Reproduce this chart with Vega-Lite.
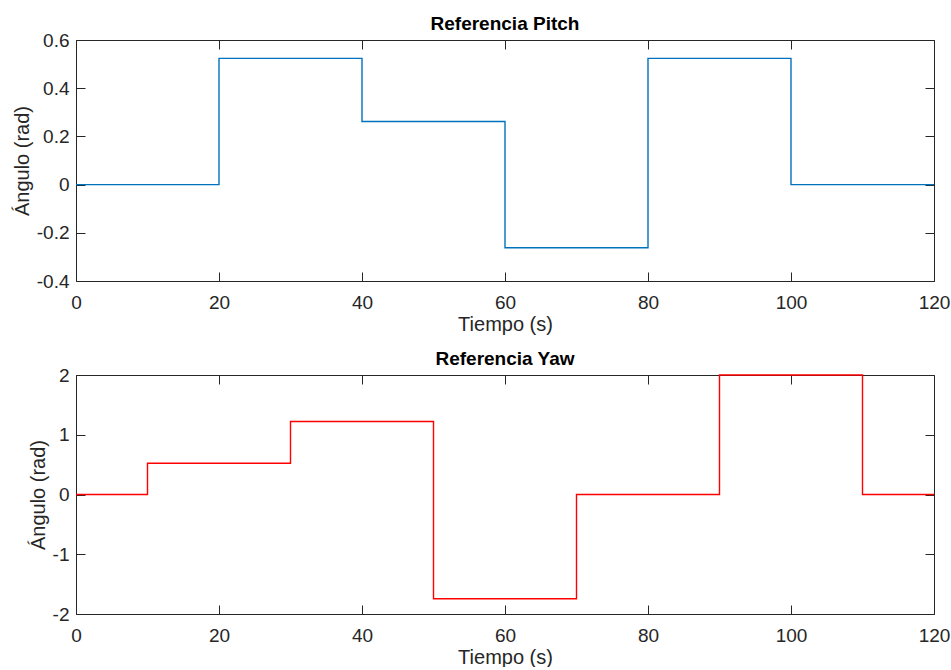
{
  "$schema": "https://vega.github.io/schema/vega-lite/v6.json",
  "padding": {"left": 12, "top": 15, "right": 16, "bottom": 0},
  "background": "white",
  "bounds": "flush",
  "spacing": 94,
  "datasets": {
    "pitch": [
      {"t": 0, "angle": 0},
      {"t": 20, "angle": 0.5236},
      {"t": 40, "angle": 0.2618},
      {"t": 60, "angle": -0.2618},
      {"t": 80, "angle": 0.5236},
      {"t": 100, "angle": 0},
      {"t": 120, "angle": 0}
    ],
    "yaw": [
      {"t": 0, "angle": 0},
      {"t": 10, "angle": 0.5236},
      {"t": 30, "angle": 1.2217},
      {"t": 50, "angle": -1.7453},
      {"t": 70, "angle": 0},
      {"t": 90, "angle": 2.0},
      {"t": 110, "angle": 0},
      {"t": 120, "angle": 0}
    ]
  },
  "vconcat": [
    {
      "width": 858,
      "height": 241,
      "data": {"name": "pitch"},
      "title": {"text": "Referencia Pitch", "anchor": "middle", "offset": -3},
      "layer": [
        {
          "mark": {"type": "line", "interpolate": "step-after", "color": "#0072BD", "strokeWidth": 1.4},
          "encoding": {
            "x": {"field": "t", "type": "quantitative", "scale": {"domain": [0, 120], "nice": false, "zero": false},
                  "axis": {"orient": "bottom", "title": "Tiempo (s)", "values": [0, 20, 40, 60, 80, 100, 120]}},
            "y": {"field": "angle", "type": "quantitative", "scale": {"domain": [-0.4, 0.6], "nice": false, "zero": false},
                  "axis": {"orient": "left", "title": "Ángulo (rad)", "values": [-0.4, -0.2, 0, 0.2, 0.4, 0.6],
                           "labelExpr": "replace(format(datum.value, '~g'), '\u2212', '-')"}}
          }
        },
        {
          "mark": {"type": "line", "strokeOpacity": 0},
          "encoding": {
            "x": {"field": "t", "type": "quantitative",
                  "axis": {"orient": "top", "title": null, "labels": false, "values": [0, 20, 40, 60, 80, 100, 120]}},
            "y": {"field": "angle", "type": "quantitative",
                  "axis": {"orient": "right", "title": null, "labels": false, "values": [-0.4, -0.2, 0, 0.2, 0.4, 0.6]}}
          }
        }
      ],
      "resolve": {"axis": {"x": "independent", "y": "independent"}}
    },
    {
      "width": 858,
      "height": 239,
      "data": {"name": "yaw"},
      "title": {"text": "Referencia Yaw", "anchor": "middle", "offset": -3},
      "layer": [
        {
          "mark": {"type": "line", "interpolate": "step-after", "color": "#FF0000", "strokeWidth": 1.4},
          "encoding": {
            "x": {"field": "t", "type": "quantitative", "scale": {"domain": [0, 120], "nice": false, "zero": false},
                  "axis": {"orient": "bottom", "title": "Tiempo (s)", "values": [0, 20, 40, 60, 80, 100, 120]}},
            "y": {"field": "angle", "type": "quantitative", "scale": {"domain": [-2, 2], "nice": false, "zero": false},
                  "axis": {"orient": "left", "title": "Ángulo (rad)", "values": [-2, -1, 0, 1, 2],
                           "labelExpr": "replace(format(datum.value, '~g'), '\u2212', '-')"}}
          }
        },
        {
          "mark": {"type": "line", "strokeOpacity": 0},
          "encoding": {
            "x": {"field": "t", "type": "quantitative",
                  "axis": {"orient": "top", "title": null, "labels": false, "values": [0, 20, 40, 60, 80, 100, 120]}},
            "y": {"field": "angle", "type": "quantitative",
                  "axis": {"orient": "right", "title": null, "labels": false, "values": [-2, -1, 0, 1, 2]}}
          }
        }
      ],
      "resolve": {"axis": {"x": "independent", "y": "independent"}}
    }
  ],
  "config": {
    "view": {"stroke": null},
    "font": "Liberation Sans",
    "title": {"font": "Liberation Sans", "fontSize": 19, "fontWeight": "bold", "color": "#000000"},
    "axis": {
      "grid": false,
      "domainColor": "#262626",
      "domainWidth": 1,
      "tickColor": "#262626",
      "tickSize": -9,
      "tickWidth": 1,
      "labelFont": "Liberation Sans",
      "labelFontSize": 19,
      "labelColor": "#262626",
      "labelFlush": false,
      "labelOverlap": false,
      "titleFont": "Liberation Sans",
      "titleFontSize": 20,
      "titleFontWeight": "normal",
      "titleColor": "#262626"
    },
    "axisLeft": {"labelPadding": 16, "titlePadding": 4},
    "axisBottom": {"labelPadding": 21, "titlePadding": 2},
    "axisTop": {"labelPadding": 0},
    "axisRight": {"labelPadding": 0}
  }
}
